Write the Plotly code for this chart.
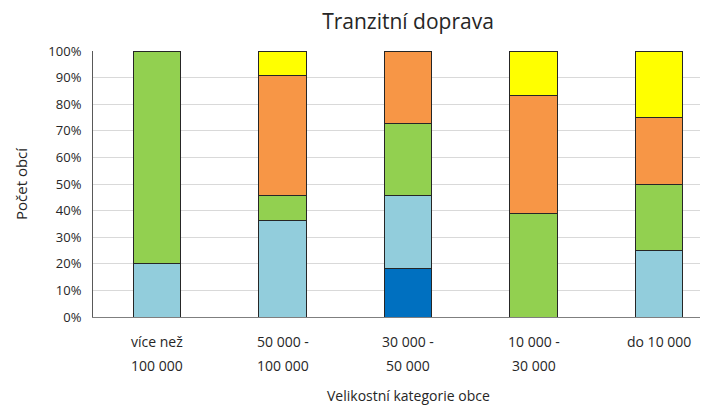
"""
Stacked 100% bar chart: Tranzitní doprava by municipality size.
"""

import plotly.graph_objects as go

CATEGORIES = [
    ("více než", "100 000"),
    ("50 000 -", "100 000"),
    ("30 000 -", "50 000"),
    ("10 000 -", "30 000"),
    ("do 10 000", ""),
]

# shares in percent, bottom to top of each stack
DARK_BLUE = [0, 0, 18.2, 0, 0]
LIGHT_BLUE = [20, 36.4, 27.3, 0, 25]
GREEN = [80, 9.1, 27.3, 38.9, 25]
ORANGE = [0, 45.4, 27.2, 44.4, 25]
YELLOW = [0, 9.1, 0, 16.7, 25]

Y_TICKS = list(range(0, 101, 10))
Y_TICK_TEXT = [f"{v}%" for v in Y_TICKS]

SERIES = [
    ("Řada 1", DARK_BLUE, "#0070C0"),
    ("Řada 2", LIGHT_BLUE, "#92CDDC"),
    ("Řada 3", GREEN, "#92D050"),
    ("Řada 4", ORANGE, "#F79646"),
    ("Řada 5", YELLOW, "#FFFF00"),
]

FONT = "Open Sans"
# the page body has an 8px margin, so figure coords = screen coords - 8
W, H = 708, 407
L, R, T, B = 85, 8, 43, 98
PLOT_H = H - T - B
PLOT_W = W - L - R

x_pos = list(range(len(CATEGORIES)))

fig = go.Figure()

for name, values, color in SERIES:
    fig.add_trace(
        go.Bar(
            x=x_pos,
            y=values,
            name=name,
            marker={"color": color, "line": {"color": "#262626", "width": 1}},
            width=0.38,
            showlegend=False,
        )
    )

# category labels, two lines each with the wider line spacing of the original
for i, (line1, line2) in enumerate(CATEGORIES):
    for text, y_px in ((line1, 24), (line2, 48)):
        if not text:
            continue
        fig.add_annotation(
            text=text,
            xref="x", yref="paper",
            x=i, y=-y_px / PLOT_H,
            xanchor="center", yanchor="middle",
            showarrow=False,
            font={"size": 14},
        )

# axis titles
fig.add_annotation(
    text="Velikostní kategorie obce",
    xref="paper", yref="paper",
    x=(400 - L) / PLOT_W, y=-78 / PLOT_H,
    xanchor="center", yanchor="middle",
    showarrow=False,
    font={"size": 14},
)
fig.add_annotation(
    text="Počet obcí",
    xref="paper", yref="paper",
    x=-(L - 13) / PLOT_W, y=0.5,
    xanchor="center", yanchor="middle",
    textangle=-90,
    showarrow=False,
    font={"size": 15},
)

fig.update_layout(
    width=W,
    height=H,
    barmode="stack",
    plot_bgcolor="white",
    paper_bgcolor="white",
    font={"family": FONT, "color": "#262626", "size": 13},
    margin={"l": L, "r": R, "t": T, "b": B, "autoexpand": False},
    title={
        "text": "Tranzitní doprava",
        "x": 400 / W,
        "xanchor": "center",
        "y": 1 - 14 / H,
        "yanchor": "middle",
        "font": {"size": 21, "family": FONT, "color": "#262626"},
    },
    xaxis={
        "range": [-0.51, 4.39],
        "tickvals": x_pos,
        "showticklabels": False,
        "showgrid": False,
        "zeroline": False,
        "showline": True,
        "linecolor": "#7F7F7F",
        "linewidth": 1,
        "automargin": False,
    },
    yaxis={
        "range": [0, 100],
        "tickvals": Y_TICKS,
        "ticktext": Y_TICK_TEXT,
        "showgrid": True,
        "gridcolor": "#D9D9D9",
        "zeroline": False,
        "showline": True,
        "linecolor": "#595959",
        "linewidth": 1,
        "tickfont": {"size": 13},
        "ticks": "outside",
        "ticklen": 8,
        "tickcolor": "rgba(0,0,0,0)",
        "automargin": False,
    },
)

fig.write_html("out.html")
